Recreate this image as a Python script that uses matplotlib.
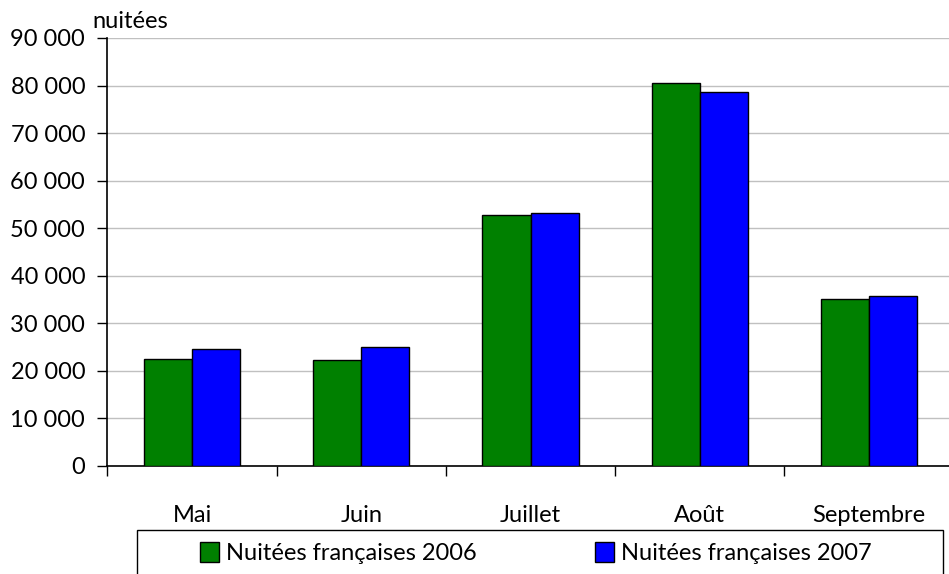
import matplotlib
matplotlib.use("Agg")
import matplotlib.pyplot as plt
from matplotlib.patches import Rectangle
import numpy as np

months = ["Mai", "Juin", "Juillet", "Août", "Septembre"]
nuitees_2006 = [22400, 22300, 52700, 80600, 35100]
nuitees_2007 = [24700, 25100, 53100, 78600, 35700]
series_labels = ["Nuitées françaises 2006", "Nuitées françaises 2007"]
yticks = list(range(0, 90001, 10000))
ytick_labels = [f"{v:,}".replace(",", " ") for v in yticks]

plt.rcParams['font.family'] = ['Lato', 'DejaVu Sans']
FS = 17

fig = plt.figure(figsize=(9.49, 5.74), dpi=100)
W, H = 949, 574
left, right, top, bottom = 107.4, 953.6, 38, 466
ax = fig.add_axes([left / W, 1 - bottom / H, (right - left) / W, (bottom - top) / H])

x = np.arange(len(months))
bw = 0.285
ax.bar(x - bw / 2, nuitees_2006, bw, color="#008000", edgecolor="black", linewidth=1, label=series_labels[0], zorder=3)
ax.bar(x + bw / 2, nuitees_2007, bw, color="#0000FF", edgecolor="black", linewidth=1, label=series_labels[1], zorder=3)

ax.set_xlim(-0.5, len(months) - 0.5)
ax.set_ylim(0, 90000)
ax.set_yticks(yticks)
ax.set_yticklabels(ytick_labels, fontsize=FS)
ax.yaxis.grid(True, color="#c0c0c0", linewidth=1, zorder=0)
ax.set_axisbelow(True)

ax.set_xticks(np.arange(len(months) + 1) - 0.5)
ax.set_xticklabels([])
ax.set_xticks(x, minor=True)
ax.set_xticklabels(months, minor=True, fontsize=FS)
ax.tick_params(axis='x', which='major', length=7, direction='out', width=1)
ax.tick_params(axis='x', which='minor', length=0, pad=28)
ax.tick_params(axis='y', length=7, direction='out', width=1, pad=9)

for s in ["top", "right"]:
    ax.spines[s].set_visible(False)
ax.spines["left"].set_linewidth(1.2)
ax.spines["bottom"].set_linewidth(1.2)

fig.text(92 / W, 1 - 22 / H, "nuitées", fontsize=FS, va="center", ha="left")

# legend box
fig.patches.append(Rectangle((137 / W, -0.05), (943 - 137) / W, 0.05 + 1 - 530 / H,
                             transform=fig.transFigure, facecolor="white", edgecolor="black",
                             linewidth=1, zorder=1))
leg = fig.legend(loc="center left", bbox_to_anchor=(191 / W, 1 - 553 / H), ncol=2, frameon=False,
                 fontsize=FS, handlelength=0.8, handleheight=0.9, handletextpad=0.3,
                 columnspacing=5.0, borderaxespad=0)
leg.set_zorder(5)

fig.savefig("out.png", dpi=100)
